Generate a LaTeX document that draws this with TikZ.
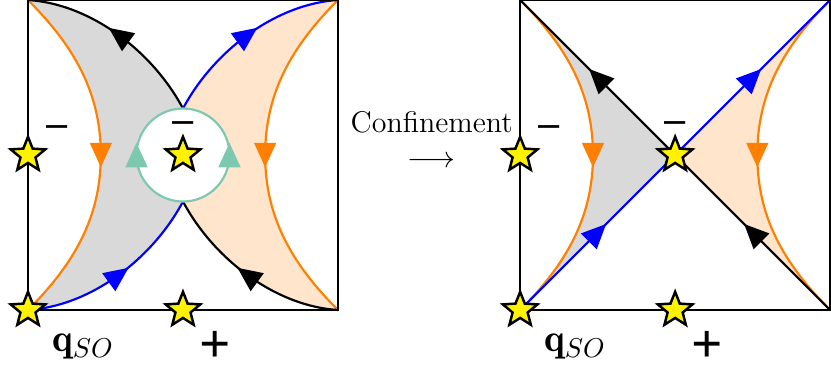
\documentclass[tikz,border=0pt]{standalone}
\usepackage{fontspec}
\newfontfamily\signfont[Ligatures=TeX]{TeX Gyre Heros}
\usetikzlibrary{shapes.geometric,decorations.markings,arrows.meta}
\definecolor{loopteal}{RGB}{125,201,175}
\begin{document}
\begin{tikzpicture}[scale=1,
                thick,
                starnode/.style={star,star points=5,star point ratio=2.3,minimum size=0.47cm,inner sep=0pt,draw=black,line width=0.9pt,fill=yellow},
                midarrow/.style={postaction={decorate},decoration={markings,mark=at position 0.5 with {\arrow[xshift=4.5pt]{Triangle[length=9pt,width=8pt]}}}},
                sign/.style={font=\signfont\fontsize{14}{16}\selectfont},
                plus/.style={font=\signfont\fontsize{21}{23}\selectfont},
                lbl/.style={font=\Large}]
                \useasboundingbox (-0.361,-0.774) rectangle (10.361,4.0);
                % before confinement
                \begin{scope}
                \coordinate (lsw) at (0,0);
                \coordinate (lnw) at (0,4);
                \coordinate (lse) at (4,0);
                \coordinate (lne) at (4,4);
                \coordinate (lc) at (2,2);
                \coordinate (ltop) at (2,2.6);
                \coordinate (lbot) at (2,1.4);
                \fill[gray!30] (lnw) .. controls (0.6,3.4) and (0.94,2.8) .. (0.94,2) .. controls (0.94,1.2) and (0.6,0.6) .. (lsw)
                    .. controls (0.8,0.05) and (1.6,0.65) .. (lbot) arc[start angle=-90,end angle=-270,radius=0.6]
                    .. controls (1.6,3.35) and (0.8,3.95) .. (lnw);
                \fill[orange!20] (lne) .. controls (3.4,3.4) and (3.06,2.8) .. (3.06,2) .. controls (3.06,1.2) and (3.4,0.6) .. (lse)
                    .. controls (3.2,0.05) and (2.4,0.65) .. (lbot) arc[start angle=-90,end angle=90,radius=0.6]
                    .. controls (2.4,3.35) and (3.2,3.95) .. (lne);
                \draw[orange,midarrow] (lnw) .. controls (0.6,3.4) and (0.94,2.8) .. (0.94,2) .. controls (0.94,1.2) and (0.6,0.6) .. (lsw);
                \draw[orange,midarrow] (lne) .. controls (3.4,3.4) and (3.06,2.8) .. (3.06,2) .. controls (3.06,1.2) and (3.4,0.6) .. (lse);
                \draw[black,midarrow] (ltop) .. controls (1.6,3.35) and (0.8,3.95) .. (lnw);
                \draw[black,midarrow] (lse) .. controls (3.2,0.05) and (2.4,0.65) .. (lbot);
                \draw[blue,midarrow] (lsw) .. controls (0.8,0.05) and (1.6,0.65) .. (lbot);
                \draw[blue,midarrow] (ltop) .. controls (2.4,3.35) and (3.2,3.95) .. (lne);
                \draw[loopteal,midarrow] (lbot) arc[start angle=-90,end angle=-270,radius=0.6];
                \draw[loopteal,midarrow] (lbot) arc[start angle=-90,end angle=90,radius=0.6];
                \draw (lsw) rectangle (lne);
                \node[starnode] (lstarw) at (0,2) {};
                \node[starnode] (lstarsw) at (lsw) {};
                \node[starnode] (lstars) at (2,0) {};
                \node[starnode] (lstarc) at (lc) {};
                \node[sign] (lminusw) at (0.37,2.3) {--};
                \node[sign] (lminusc) at (2,2.35) {--};
                \node[plus] (lplus) at (2.42,-0.45) {+};
                \node[lbl] (lq) at (0.71,-0.47) {$\mathbf{q}_{SO}$};
                \end{scope}
                \node[align=center,font=\fontsize{11}{13}\selectfont] (conf) at (5.21,2.2) {Confinement\\$\longrightarrow$};
                % after confinement
                \begin{scope}[xshift=6.35cm]
                \coordinate (rsw) at (0,0);
                \coordinate (rnw) at (0,4);
                \coordinate (rse) at (4,0);
                \coordinate (rne) at (4,4);
                \coordinate (rc) at (2,2);
                \fill[gray!30] (rnw) .. controls (0.6,3.4) and (0.94,2.8) .. (0.94,2) .. controls (0.94,1.2) and (0.6,0.6) .. (rsw) -- (rc) -- cycle;
                \fill[orange!20] (rne) .. controls (3.4,3.4) and (3.06,2.8) .. (3.06,2) .. controls (3.06,1.2) and (3.4,0.6) .. (rse) -- (rc) -- cycle;
                \draw[orange,midarrow] (rnw) .. controls (0.6,3.4) and (0.94,2.8) .. (0.94,2) .. controls (0.94,1.2) and (0.6,0.6) .. (rsw);
                \draw[orange,midarrow] (rne) .. controls (3.4,3.4) and (3.06,2.8) .. (3.06,2) .. controls (3.06,1.2) and (3.4,0.6) .. (rse);
                \draw[black,midarrow] (rc) -- (rnw);
                \draw[black,midarrow] (rse) -- (rc);
                \draw[blue,midarrow] (rsw) -- (rc);
                \draw[blue,midarrow] (rc) -- (rne);
                \draw (rsw) rectangle (rne);
                \node[starnode] (rstarw) at (0,2) {};
                \node[starnode] (rstarsw) at (rsw) {};
                \node[starnode] (rstars) at (2,0) {};
                \node[starnode] (rstarc) at (rc) {};
                \node[sign] (rminusw) at (0.37,2.3) {--};
                \node[sign] (rminusc) at (2,2.35) {--};
                \node[plus] (rplus) at (2.42,-0.45) {+};
                \node[lbl] (rq) at (0.71,-0.47) {$\mathbf{q}_{SO}$};
                \end{scope}
            \end{tikzpicture}
\end{document}
